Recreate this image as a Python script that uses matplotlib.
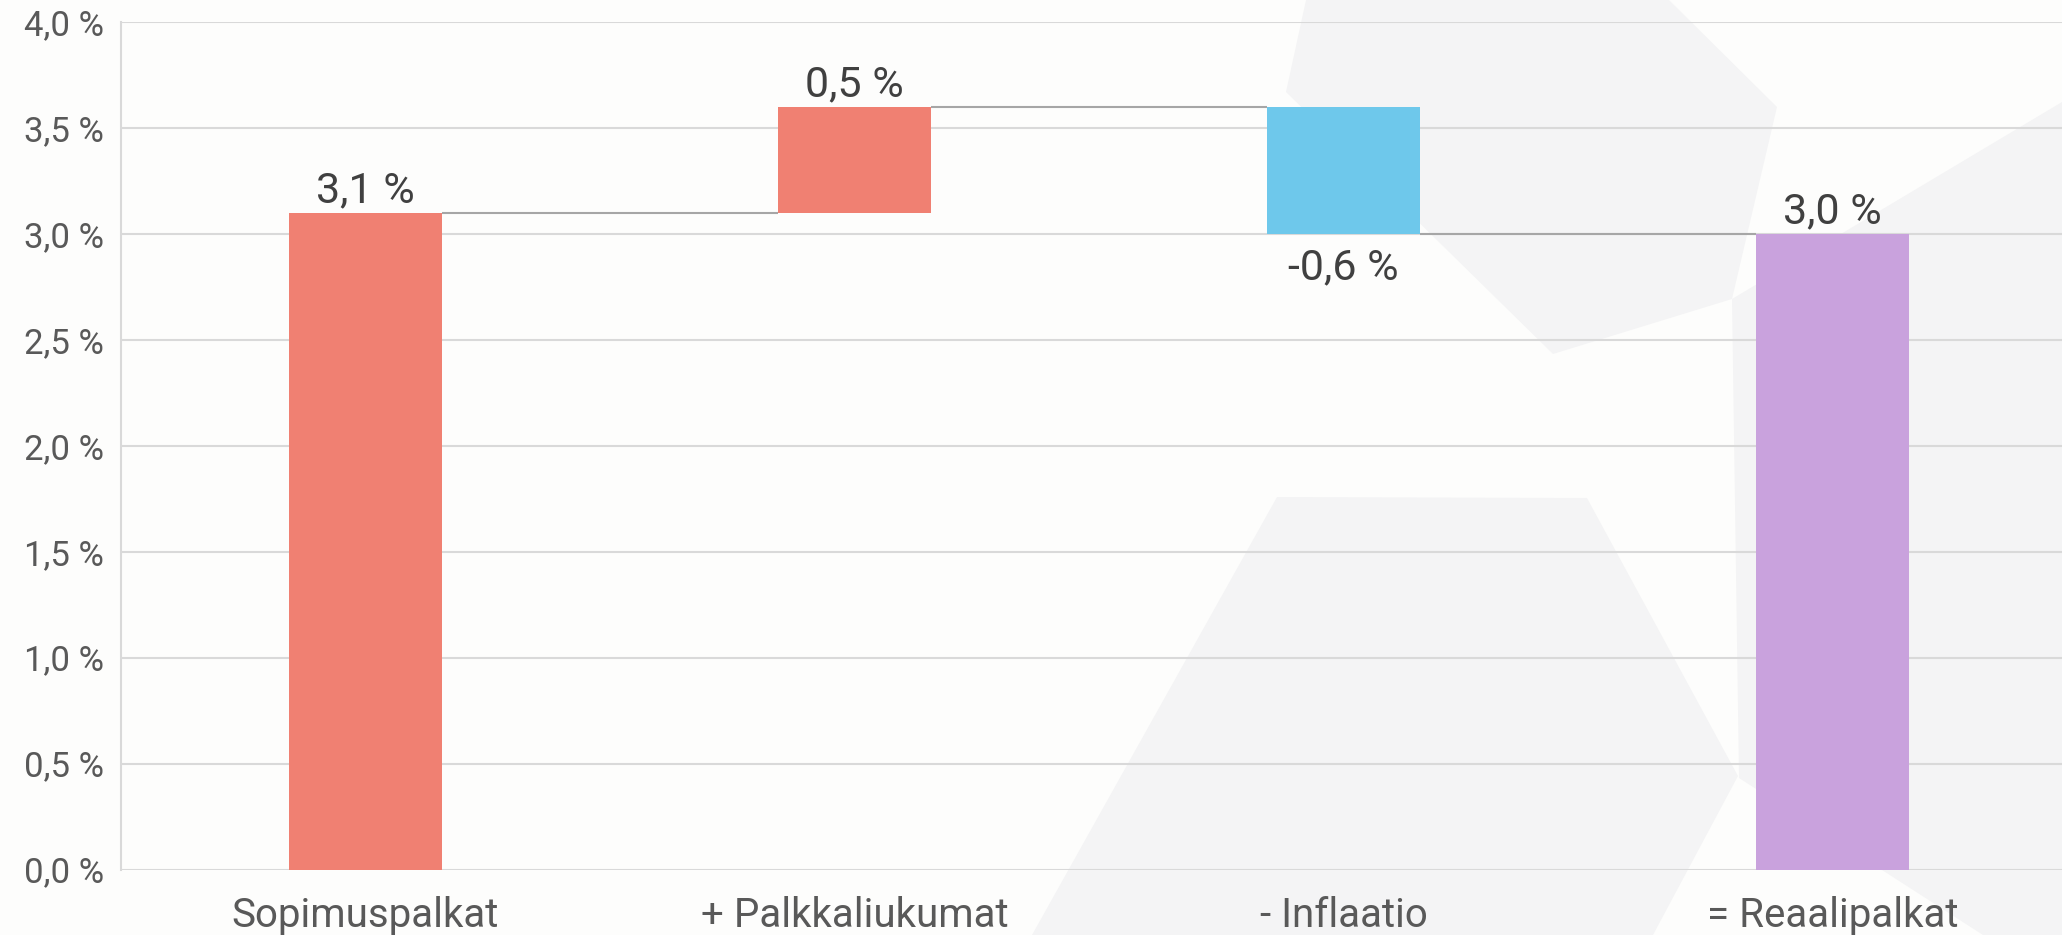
import matplotlib
matplotlib.use("Agg")
import matplotlib.pyplot as plt
from matplotlib.patches import Polygon
from matplotlib.ticker import FuncFormatter, MultipleLocator
import numpy as np

# data
categories = ["Sopimuspalkat", "+ Palkkaliukumat", "- Inflaatio", "= Reaalipalkat"]
changes = [3.1, 0.5, -0.6, 3.0]
is_total = [True, False, False, True]
bar_colors = ["#F08072", "#F08072", "#6EC8EB", "#C9A2DD"]

W, H = 2062, 935
BG = "#FDFDFC"
SHAPE = "#F4F4F5"


def fmt(v):
    return f"{v:.1f} %".replace(".", ",")


plt.rcParams["font.family"] = ["Roboto", "DejaVu Sans"]

fig = plt.figure(figsize=(W / 100, H / 100), dpi=100, facecolor=BG)


def px(points):
    # pixel coords (top-left origin) -> figure fraction
    return [(x / W, 1 - y / H) for x, y in points]


# faint background shapes
shapes = [
    [(1306, 0), (1669, 0), (1777, 107), (1732, 299), (1553, 354), (1286, 92)],
    [(1732, 299), (2062, 102), (2062, 935), (1983, 935), (1739, 778)],
    [(1277, 497), (1587, 498), (1738, 776), (1653, 935), (1032, 935)],
]
for s in shapes:
    fig.patches.append(Polygon(px(s), closed=True, transform=fig.transFigure,
                               facecolor=SHAPE, edgecolor="none", zorder=-10))

left, right = 121 / W, 2077 / W
bottom, top = 1 - 869.5 / H, 1 - 22 / H
ax = fig.add_axes([left, bottom, right - left, top - bottom])
ax.set_facecolor("none")
ax.set_zorder(1)

# waterfall: running level after each step
bottoms, levels = [], []
lvl = 0.0
for v, tot in zip(changes, is_total):
    if tot:
        bottoms.append(0.0)
        lvl = v
    else:
        bottoms.append(lvl if v >= 0 else lvl + v)
        lvl += v
    levels.append(lvl)
bottoms = np.array(bottoms)
heights = np.abs(changes)
tops = bottoms + heights

x = np.arange(len(categories))
bw = 0.313
ax.bar(x, heights, bottom=bottoms, width=bw, color=bar_colors, zorder=3)

# connectors
for i in range(len(categories) - 1):
    ax.hlines(levels[i], x[i] + bw / 2, x[i + 1] - bw / 2, color="#A6A6A6", lw=1.5, zorder=3)

# data labels
for i, v in enumerate(changes):
    if v >= 0:
        ax.annotate(fmt(v), (x[i], tops[i]), xytext=(0, 7.5), textcoords="offset points",
                    ha="center", va="baseline", fontsize=31, color="#404040")
    else:
        ax.annotate(fmt(v), (x[i], bottoms[i]), xytext=(0, -32.5), textcoords="offset points",
                    ha="center", va="baseline", fontsize=31, color="#404040")

ax.set_xlim(-0.5, len(categories) - 0.5)
ax.set_ylim(0, 4.0)
ax.yaxis.set_major_locator(MultipleLocator(0.5))
ax.yaxis.set_major_formatter(FuncFormatter(lambda v, p: fmt(v)))
ax.set_xticks(x)
ax.set_xticklabels(categories)
ax.tick_params(axis="y", length=0, pad=12, labelsize=25, labelcolor="#595959")
ax.tick_params(axis="x", length=0, pad=19, labelsize=29, labelcolor="#595959")
ax.grid(axis="y", color="#D9D9D9", lw=1.5, zorder=0)
ax.set_axisbelow(True)
for side in ["top", "right", "bottom"]:
    ax.spines[side].set_visible(False)
ax.spines["left"].set_color("#D9D9D9")
ax.spines["left"].set_linewidth(1.5)

fig.savefig("out.png", dpi=100, facecolor=BG)
